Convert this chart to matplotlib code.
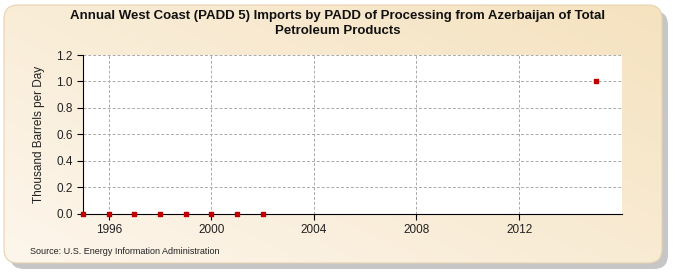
import numpy as np
import matplotlib.pyplot as plt
from matplotlib.patches import FancyBboxPatch

years = [1995, 1996, 1997, 1998, 1999, 2000, 2001, 2002, 2015]
values = [0.0, 0.0, 0.0, 0.0, 0.0, 0.0, 0.0, 0.0, 1.0]
x_ticks = [1996, 2000, 2004, 2008, 2012]
y_ticks = [0.0, 0.2, 0.4, 0.6, 0.8, 1.0, 1.2]

title = ("Annual West Coast (PADD 5) Imports by PADD of Processing from Azerbaijan of Total\n"
         "Petroleum Products")

plt.rcParams["font.family"] = ["Liberation Sans", "DejaVu Sans"]


def draw_background(fig):
    bg = fig.add_axes([0, 0, 1, 1], zorder=-10)
    bg.set_xlim(0, 675)
    bg.set_ylim(0, 275)
    bg.axis("off")
    # shadow
    shadow = FancyBboxPatch((10, 6), 658, 258, boxstyle="round,pad=0,rounding_size=14",
                            facecolor="#b8b8b8", edgecolor="none", alpha=0.8, zorder=0)
    bg.add_patch(shadow)
    panel = FancyBboxPatch((4, 12), 658, 258, boxstyle="round,pad=0,rounding_size=14",
                           facecolor="none", edgecolor="#e6d2b0", linewidth=0.8, zorder=3)
    bg.add_patch(panel)
    # gradient fill clipped to the panel
    gx = np.linspace(0, 1, 200)
    gy = np.linspace(0, 1, 100)
    X, Y = np.meshgrid(gx, gy)
    t = np.clip(0.55 * X + 0.45 * (1 - Y), 0, 1)
    c0 = np.array([0xfd, 0xf6, 0xec]) / 255
    c1 = np.array([0xf5, 0xe2, 0xbf]) / 255
    img = c0[None, None, :] * (1 - t[..., None]) + c1[None, None, :] * t[..., None]
    im = bg.imshow(img, extent=[4, 662, 12, 270], origin="upper", aspect="auto", zorder=2)
    im.set_clip_path(panel)


fig = plt.figure(figsize=(6.75, 2.75), dpi=100)
fig.patch.set_facecolor("white")
draw_background(fig)

ax = fig.add_axes([0.123, 0.222, 0.798, 0.578])
ax.set_facecolor("white")
ax.scatter(years, values, marker="s", s=12, color="#c00000", zorder=5, clip_on=False)

ax.set_xlim(1995, 2016)
ax.set_ylim(0, 1.2)
ax.set_xticks(x_ticks)
ax.set_yticks(y_ticks)
ax.set_yticklabels([f"{v:.1f}" for v in y_ticks])
ax.grid(True, linestyle=(0, (3, 2)), color="#aaaaaa", linewidth=0.7)
ax.set_axisbelow(True)
for side in ["top", "right"]:
    ax.spines[side].set_visible(False)
ax.spines["left"].set_color("black")
ax.spines["bottom"].set_color("black")
ax.tick_params(axis="both", labelsize=8.5, length=4, color="black", colors="#222222")
ax.set_ylabel("Thousand Barrels per Day", fontsize=8.5, color="#222222", labelpad=8)

fig.text(0.5, 0.965, title, ha="center", va="top", fontsize=9.5, fontweight="bold",
         color="#111111", linespacing=1.35)
fig.text(0.045, 0.085, "Source: U.S. Energy Information Administration", fontsize=6.5,
         color="#222222", va="center")

fig.savefig("out.png", dpi=100)
